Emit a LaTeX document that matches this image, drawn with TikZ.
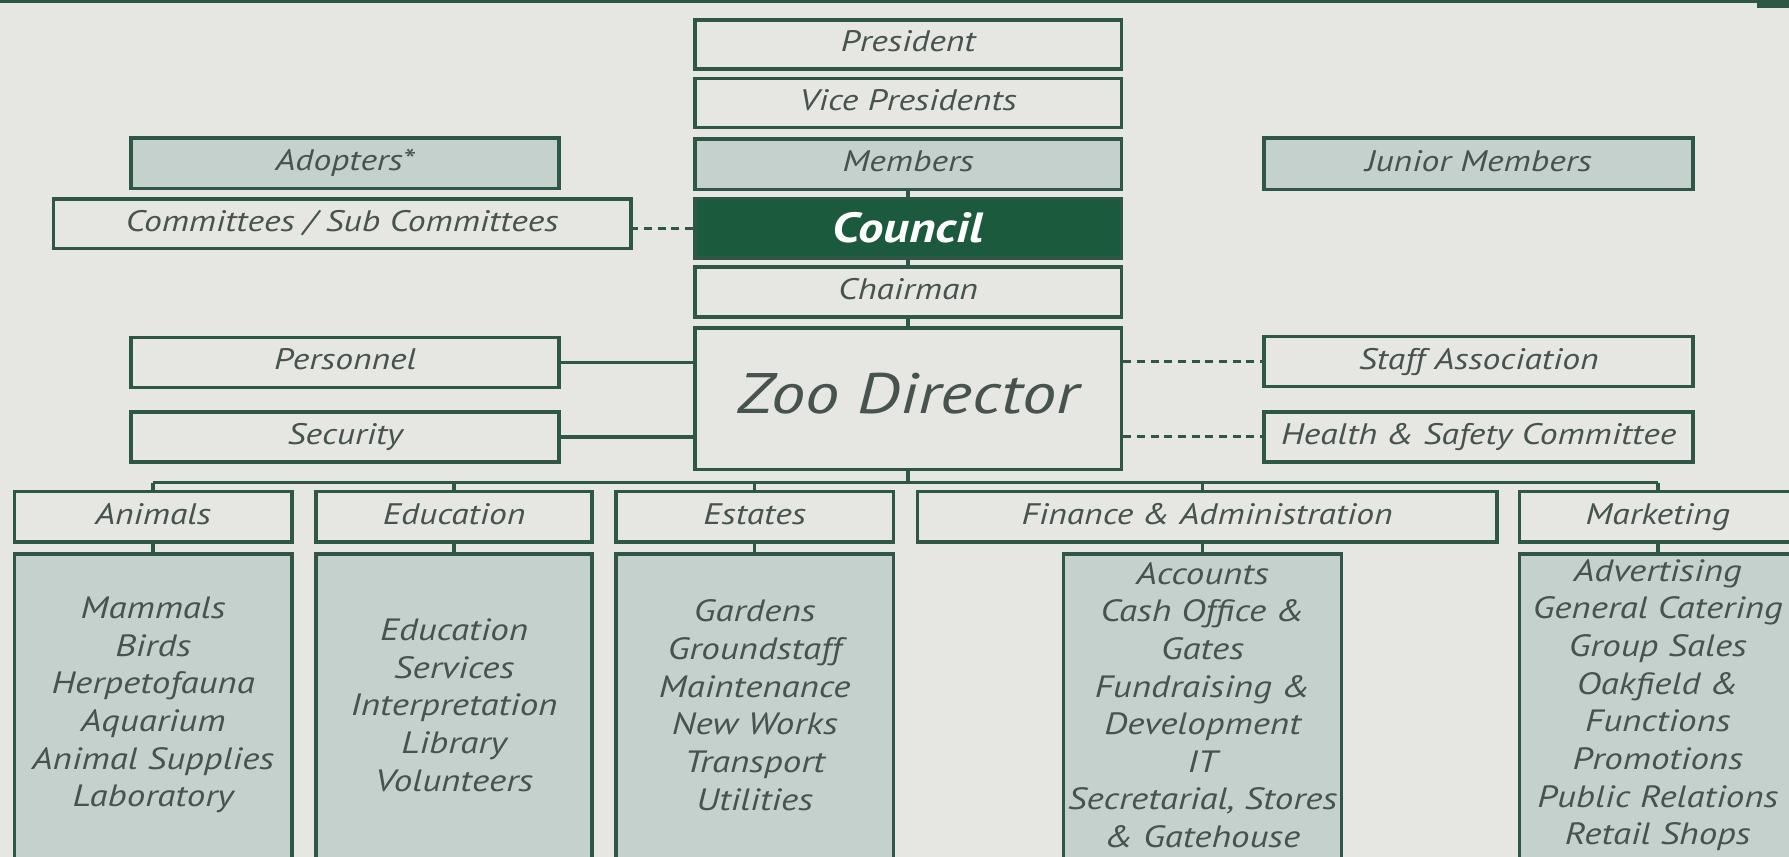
\documentclass[tikz,border=0pt]{standalone}
\usepackage{fontspec}
\setmainfont{PT Sans}[FakeStretch=1.2]
\definecolor{bg}{HTML}{E6E6E2}
\definecolor{ln}{HTML}{2F5747}
\definecolor{shade}{HTML}{C4D1CC}
\definecolor{councilgreen}{HTML}{1C5A3E}
\definecolor{txt}{HTML}{46534E}
\tikzset{
  box/.style={draw=ln, line width=3pt, fill=bg, inner sep=0pt, text=txt,
    text height=18pt, text depth=5pt,
    font=\fontsize{26}{33}\selectfont\itshape},
  shadebox/.style={box, fill=shade},
  subbox/.style={draw=ln, line width=3pt, fill=shade, inner sep=0pt},
  subtext/.style={text=txt, align=center, inner sep=0pt,
    font=\fontsize{27}{33}\selectfont\itshape},
  conn/.style={draw=ln, line width=3pt},
  dconn/.style={draw=ln, line width=2.6pt, dash pattern=on 7pt off 5pt}
}
\begin{document}
\begin{tikzpicture}[x=1pt,y=-1pt]
\useasboundingbox (0,0) rectangle (1568,751);
\clip (0,0) rectangle (1568,751);
\fill[bg] (0,0) rectangle (1568,751);
\fill[ln] (0,-2) rectangle (1568,3);
\fill[ln] (1540,0) rectangle (1568,7);

% central column
\node[box, minimum width=374pt, minimum height=43pt] (pres) at (796,39) {President};
\node[box, minimum width=374pt, minimum height=43pt] (vp) at (796,90.5) {Vice Presidents};
\node[shadebox, minimum width=374pt, minimum height=44pt] (mem) at (796,144) {Members};
\node[box, fill=councilgreen, text=white, text height=27pt, text depth=2pt,
      font=\fontsize{37}{40}\selectfont\bfseries\itshape,
      minimum width=374pt, minimum height=52pt] (coun) at (796,200) {Council};
\node[box, minimum width=374pt, minimum height=44pt] (chair) at (796,256) {Chairman};
\node[box, font=\fontsize{50}{56}\selectfont\itshape, text height=36pt, text depth=10pt,
      minimum width=374pt, minimum height=124pt] (zoo) at (796,349.5) {Zoo Director};

% left side
\node[shadebox, minimum width=375pt, minimum height=44pt] (adopt) at (302.5,143) {Adopters*};
\node[box, minimum width=506pt, minimum height=43.5pt] (comm) at (300,196.25) {Committees / Sub Committees};
\node[box, minimum width=375pt, minimum height=43.5pt] (pers) at (302.5,317.75) {Personnel};
\node[box, minimum width=375pt, minimum height=44pt] (sec) at (302.5,383) {Security};

% right side
\node[shadebox, minimum width=376pt, minimum height=45pt] (junior) at (1296,143.5) {Junior Members};
\node[box, minimum width=376pt, minimum height=44pt] (staff) at (1296,317) {Staff Association};
\node[box, minimum width=376pt, minimum height=44pt] (hs) at (1296,383) {Health \& Safety Committee};

% departments
\node[box, minimum width=243.5pt, minimum height=44pt] (anim) at (134.25,453) {Animals};
\node[box, minimum width=242pt, minimum height=44pt] (edu) at (398,453) {Education};
\node[box, minimum width=243pt, minimum height=44pt] (est) at (661.5,453) {Estates};
\node[box, minimum width=508pt, minimum height=44pt] (fin) at (1058,453) {Finance \& Administration};
\node[box, minimum width=242pt, minimum height=44pt] (mkt) at (1453,453) {Marketing};

% sub boxes
\node[subbox, minimum width=243.5pt, minimum height=274.5pt] (sanim) at (134.25,622.75) {};
\node[subbox, minimum width=242pt, minimum height=274.5pt] (sedu) at (398,622.75) {};
\node[subbox, minimum width=243pt, minimum height=274.5pt] (sest) at (661.5,622.75) {};
\node[subbox, minimum width=244pt, minimum height=274.5pt] (sfin) at (1054,622.75) {};
\node[subbox, minimum width=242pt, minimum height=274.5pt] (smkt) at (1453,622.75) {};

\node[subtext] (tanim) at (134.25,618) {Mammals\\Birds\\Herpetofauna\\Aquarium\\Animal Supplies\\Laboratory};
\node[subtext] (tedu) at (398,618) {Education\\Services\\Interpretation\\Library\\Volunteers};
\node[subtext] (test) at (661.5,618) {Gardens\\Groundstaff\\Maintenance\\New Works\\Transport\\Utilities};
\node[subtext] (tfin) at (1054,618) {Accounts\\Cash Office \&\\Gates\\Fundraising \&\\Development\\IT\\Secretarial, Stores\\\& Gatehouse};
\node[subtext] (tmkt) at (1453,618) {Advertising\\General Catering\\Group Sales\\Oakfield \&\\Functions\\Promotions\\Public Relations\\Retail Shops};

% connectors
\draw[conn] (mem.south) -- (coun.north);
\draw[conn] (coun.south) -- (chair.north);
\draw[conn] (chair.south) -- (zoo.north);
\draw[dconn] (coun.west) -- (coun.west -| comm.east);
\draw[conn] (pers.east) -- (pers.east -| zoo.west);
\draw[conn] (sec.east) -- (sec.east -| zoo.west);
\draw[dconn] (staff.west -| zoo.east) -- (staff.west);
\draw[dconn] (hs.west -| zoo.east) -- (hs.west);

\coordinate (bus) at (796,423);
\draw[conn] (zoo.south) -- (bus);
\draw[conn] (anim.north |- bus) -- (smkt.north |- bus);
\draw[conn] (anim.north |- bus) -- (anim.north);
\draw[conn] (edu.north |- bus) -- (edu.north);
\draw[conn] (est.north |- bus) -- (est.north);
\draw[conn] (sfin.north |- bus) -- (sfin.north |- fin.north);
\draw[conn] (smkt.north |- bus) -- (smkt.north |- mkt.north);

\draw[conn] (anim.south) -- (sanim.north);
\draw[conn] (edu.south) -- (sedu.north);
\draw[conn] (est.south) -- (sest.north);
\draw[conn] (sfin.north |- fin.south) -- (sfin.north);
\draw[conn] (mkt.south) -- (smkt.north);
\end{tikzpicture}
\end{document}
